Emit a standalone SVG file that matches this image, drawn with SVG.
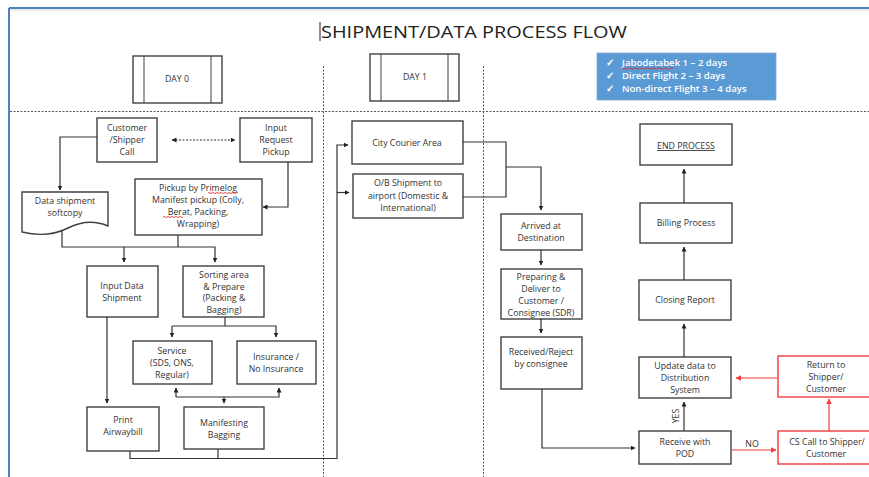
<svg xmlns="http://www.w3.org/2000/svg" width="869" height="477" viewBox="0 0 869 477">
<style>
.b{fill:#fff;stroke:#404040;stroke-width:1.4}
.r{fill:#fff;stroke:#f03c3c;stroke-width:1.4}
.t{font-family:"Open Sans","Liberation Sans",sans-serif;font-size:8.8px;fill:#333;text-anchor:middle}
.c{fill:none;stroke:#333;stroke-width:1.2}
.cr{fill:none;stroke:#f03c3c;stroke-width:1.2}
.dot{fill:none;stroke:#555;stroke-width:1;stroke-dasharray:2,1.5}
.sq{fill:none;stroke:#e02020;stroke-width:0.8}
</style>
<defs>
<marker id="a" viewBox="0 0 10 10" refX="9" refY="5" markerWidth="5" markerHeight="5" orient="auto-start-reverse" markerUnits="userSpaceOnUse"><path d="M0,0L10,5L0,10z" fill="#222"/></marker>
<marker id="ar" viewBox="0 0 10 10" refX="9" refY="5" markerWidth="6" markerHeight="6" orient="auto" markerUnits="userSpaceOnUse"><path d="M0,0L10,5L0,10z" fill="#f03c3c"/></marker>
</defs>
<rect width="869" height="477" fill="#fff"/>
<g id="frame">
<line x1="9" y1="10" x2="869" y2="10" stroke="#d8d8d8" stroke-width="1"/>
<line x1="9" y1="8" x2="869" y2="8" stroke="#4f81bd" stroke-width="2"/>
<line x1="9" y1="8" x2="9" y2="477" stroke="#4f81bd" stroke-width="2"/>
<line x1="10" y1="111.5" x2="869" y2="111.5" class="dot"/>
<line x1="323.5" y1="66" x2="323.5" y2="477" class="dot"/>
<line x1="483.5" y1="66" x2="483.5" y2="477" class="dot"/>
</g>
<g id="title">
<line x1="320" y1="22" x2="320" y2="41" stroke="#222" stroke-width="1"/>
<text x="321" y="38" font-family="Open Sans,Liberation Sans,sans-serif" font-size="17" fill="#222" textLength="306" lengthAdjust="spacingAndGlyphs">SHIPMENT/DATA PROCESS FLOW</text>
</g>
<g id="day0">
<rect x="133" y="56" width="89" height="47" class="b" stroke-width="1"/>
<line x1="144" y1="56" x2="144" y2="103" stroke="#404040"/>
<line x1="211" y1="56" x2="211" y2="103" stroke="#404040"/>
<text x="177" y="82" class="t" font-size="7.5">DAY 0</text>
</g>
<g id="day1">
<rect x="370" y="54" width="89" height="47" class="b" stroke-width="1"/>
<line x1="381" y1="54" x2="381" y2="101" stroke="#404040"/>
<line x1="448" y1="54" x2="448" y2="101" stroke="#404040"/>
<text x="415" y="80" class="t" font-size="7.5">DAY 1</text>
</g>
<g id="legend">
<rect x="597" y="53" width="179" height="47" fill="#5b9bd5" stroke="#7fa7d4" stroke-width="0.8"/>
<g font-family="Open Sans,Liberation Sans,sans-serif" font-size="9.6" font-weight="600" fill="#fff">
<text x="606" y="66">✓</text><text x="622" y="66">Jabodetabek 1 – 2 days</text>
<text x="606" y="79">✓</text><text x="622" y="79">Direct Flight 2 – 3 days</text>
<text x="606" y="92">✓</text><text x="622" y="92">Non-direct Flight 3 – 4 days</text>
</g>
<path d="M622,68.5 q1.5,-1.5 3,0 t3,0 t3,0 t3,0 t3,0 t3,0 t3,0 t3,0 t3,0 t3,0 t3,0 t3,0 t3,0 t3,0 t3,0 t3,0 t3,0" class="sq"/>
</g>
<g id="customer">
<rect x="97" y="118" width="60" height="44" class="b"/>
<text class="t"><tspan x="127" y="131">Customer</tspan><tspan x="127" y="143">/Shipper</tspan><tspan x="127" y="155">Call</tspan></text>
</g>
<g id="inputRequest">
<rect x="240" y="118" width="72" height="44" class="b"/>
<text class="t"><tspan x="276" y="131">Input</tspan><tspan x="276" y="143">Request</tspan><tspan x="276" y="155">Pickup</tspan></text>
</g>
<g id="dataShipment">
<path d="M22,192H108V226C94,220 80,222 68,228C54,235 38,236 22,232Z" class="b"/>
<text class="t"><tspan x="65" y="204">Data shipment</tspan><tspan x="65" y="216">softcopy</tspan></text>
</g>
<g id="pickup">
<rect x="135" y="179" width="127" height="56" class="b"/>
<text class="t"><tspan x="198" y="191">Pickup by Primelog</tspan><tspan x="198" y="203">Manifest pickup (Colly,</tspan><tspan x="198" y="215">Berat, Packing,</tspan><tspan x="198" y="227">Wrapping)</tspan></text>
<path d="M208,193 q1,-1 2,0 t2,0 t2,0 t2,0 t2,0 t2,0 t2,0 t2,0 t2,0 t2,0 t2,0 t2,0 t2,0 t2,0 t2,0" class="sq"/>
<path d="M163,217 q1,-1 2,0 t2,0 t2,0 t2,0 t2,0 t2,0 t2,0 t2,0 t2,0 t2,0" class="sq"/>
</g>
<g id="inputData">
<rect x="87" y="266" width="71" height="51" class="b"/>
<text class="t"><tspan x="122" y="289">Input Data</tspan><tspan x="122" y="301">Shipment</tspan></text>
</g>
<g id="sorting">
<rect x="183" y="266" width="81" height="51" class="b"/>
<text class="t"><tspan x="224" y="278">Sorting area</tspan><tspan x="224" y="289.5">&amp; Prepare</tspan><tspan x="224" y="301">(Packing &amp;</tspan><tspan x="224" y="312.5">Bagging)</tspan></text>
</g>
<g id="service">
<rect x="133" y="341" width="79" height="43" class="b"/>
<text class="t"><tspan x="172" y="354">Service</tspan><tspan x="172" y="366">(SDS, ONS,</tspan><tspan x="172" y="378">Regular)</tspan></text>
</g>
<g id="insurance">
<rect x="237" y="341" width="79" height="43" class="b"/>
<text class="t"><tspan x="276" y="360">Insurance /</tspan><tspan x="276" y="372">No Insurance</tspan></text>
</g>
<g id="print">
<rect x="87" y="407" width="72" height="44" class="b"/>
<text class="t"><tspan x="123" y="423">Print</tspan><tspan x="123" y="435">Airwaybill</tspan></text>
</g>
<g id="manifesting">
<rect x="184" y="407" width="80" height="42" class="b"/>
<text class="t"><tspan x="224" y="426">Manifesting</tspan><tspan x="224" y="438">Bagging</tspan></text>
</g>
<g id="cityCourier">
<rect x="352" y="121" width="111" height="43" class="b"/>
<text x="407" y="146" class="t" font-size="9.4">City Courier Area</text>
</g>
<g id="obShipment">
<rect x="353" y="174" width="110" height="44" class="b"/>
<text class="t"><tspan x="408" y="186">O/B Shipment to</tspan><tspan x="408" y="199">airport (Domestic &amp;</tspan><tspan x="408" y="211">International)</tspan></text>
</g>
<g id="arrived">
<rect x="501" y="214" width="81" height="36" class="b"/>
<text class="t"><tspan x="541" y="229">Arrived at</tspan><tspan x="541" y="241">Destination</tspan></text>
</g>
<g id="preparing">
<rect x="501" y="269" width="81" height="50" class="b"/>
<text class="t"><tspan x="541" y="280">Preparing &amp;</tspan><tspan x="541" y="292">Deliver to</tspan><tspan x="541" y="304">Customer /</tspan><tspan x="541" y="316">Consignee (SDR)</tspan></text>
</g>
<g id="received">
<rect x="501" y="337" width="81" height="52" class="b"/>
<text class="t"><tspan x="541" y="355">Received/Reject</tspan><tspan x="541" y="367">by consignee</tspan></text>
</g>
<g id="endProcess">
<rect x="640" y="124" width="92" height="41" class="b"/>
<text x="686" y="149" class="t" text-decoration="underline">END PROCESS</text>
</g>
<g id="billing">
<rect x="640" y="203" width="92" height="40" class="b"/>
<text x="686" y="226" class="t" font-size="9.2">Billing Process</text>
</g>
<g id="closing">
<rect x="639" y="280" width="92" height="40" class="b"/>
<text x="685" y="303" class="t" font-size="9.2">Closing Report</text>
</g>
<g id="update">
<rect x="639" y="357" width="92" height="41" class="b"/>
<text class="t"><tspan x="685" y="369">Update data to</tspan><tspan x="685" y="381">Distribution</tspan><tspan x="685" y="393">System</tspan></text>
</g>
<g id="receivePod">
<rect x="639" y="431" width="92" height="33" class="b"/>
<text class="t"><tspan x="685" y="445">Receive with</tspan><tspan x="685" y="457">POD</tspan></text>
</g>
<g id="returnShipper">
<rect x="778" y="356" width="95" height="41" class="r"/>
<text class="t"><tspan x="826" y="368">Return to</tspan><tspan x="826" y="380">Shipper/</tspan><tspan x="826" y="392">Customer</tspan></text>
</g>
<g id="csCall">
<rect x="778" y="431" width="96" height="33" class="r"/>
<text class="t"><tspan x="827" y="445">CS Call to Shipper/</tspan><tspan x="826" y="457">Customer</tspan></text>
</g>
<g id="connectors">
<line x1="172" y1="140" x2="235" y2="140" class="c" stroke-dasharray="2,1.5" marker-start="url(#a)" marker-end="url(#a)"/>
<path d="M97,137H60V190" class="c" marker-end="url(#a)"/>
<path d="M288,162V207H263" class="c" marker-end="url(#a)"/>
<path d="M62,230V247H215V262" class="c" marker-end="url(#a)"/>
<path d="M178,235V247" class="c"/>
<path d="M124,247V262" class="c" marker-end="url(#a)"/>
<path d="M225,317V326" class="c"/>
<path d="M172,326H276V337" class="c" marker-end="url(#a)"/>
<path d="M172,326V337" class="c" marker-end="url(#a)"/>
<path d="M176,397H279V388" class="c" marker-end="url(#a)"/>
<path d="M176,397V388" class="c" marker-end="url(#a)"/>
<path d="M224,397V403" class="c" marker-end="url(#a)"/>
<path d="M107,317V403" class="c" marker-end="url(#a)"/>
<path d="M130,451V458.5H337V145H348" class="c" marker-end="url(#a)"/>
<path d="M218,449V458.5" class="c"/>
<path d="M337,192.5H349" class="c" marker-end="url(#a)"/>
<path d="M463,142H506V197H463" class="c"/>
<path d="M506,167H541V210" class="c" marker-end="url(#a)"/>
<path d="M541,250V265" class="c" marker-end="url(#a)"/>
<path d="M541,319V333" class="c" marker-end="url(#a)"/>
<path d="M542,389V448H635" class="c" marker-end="url(#a)"/>
<path d="M684,431V402" class="c" marker-end="url(#a)"/>
<path d="M684,357V324" class="c" marker-end="url(#a)"/>
<path d="M684,280V247" class="c" marker-end="url(#a)"/>
<path d="M684,203V169" class="c" marker-end="url(#a)"/>
<text x="0" y="0" class="t" font-size="8" transform="translate(679,416) rotate(-90)">YES</text>
<path d="M731,450H776" class="cr" marker-end="url(#ar)"/>
<text x="752" y="447" class="t" font-size="8.5">NO</text>
<path d="M829,431V399" class="cr" marker-end="url(#ar)"/>
<path d="M778,378H736" class="cr" marker-end="url(#ar)"/>
</g>
</svg>
